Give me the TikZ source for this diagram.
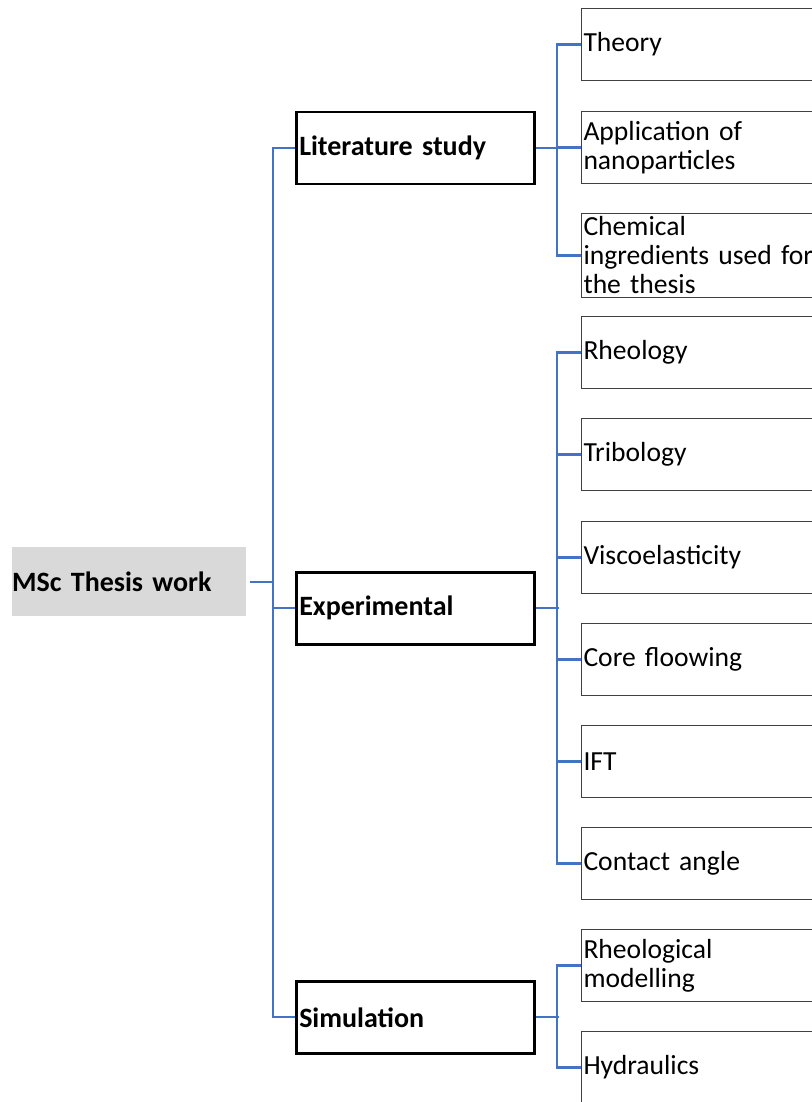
\documentclass[tikz,border=0pt]{standalone}
\usepackage{fontspec}
\setmainfont{Carlito}
\usepackage{tikz}

\definecolor{linkblue}{HTML}{4472C4}
\definecolor{rootgray}{HTML}{D9D9D9}
\definecolor{leafedge}{HTML}{404040}

\begin{document}
\begin{tikzpicture}[x=1pt, y=-1pt,
    rootbox/.style={fill=rootgray, anchor=north west, minimum width=234pt, minimum height=69pt,
        text width=234pt, inner xsep=0pt, align=left, font=\bfseries\fontsize{28}{30}\selectfont},
    midbox/.style={draw=black, line width=2.5pt, anchor=north west, minimum width=238pt, minimum height=72pt,
        text width=232pt, inner xsep=1.5pt, align=left, font=\bfseries\fontsize{28}{30}\selectfont},
    leafbox/.style={draw=leafedge, line width=1pt, anchor=north west, minimum width=262pt, minimum height=72pt,
        text width=258pt, inner xsep=0pt, align=left, font=\fontsize{27.6}{29}\selectfont},
    link/.style={draw=linkblue, line width=2.2pt}]
\useasboundingbox (0,0) rectangle (811,1102);

% root and main branches
\node[rootbox] (thesis) at (12,547) {MSc Thesis work};
\node[midbox] (lit) at (295,111) {Literature study};
\node[midbox] (exp) at (295,571) {Experimental};
\node[midbox] (sim) at (295,980) {Simulation};

% leaves
\node[leafbox] (theory) at (581,8) {Theory};
\node[leafbox] (app) at (581,111) {Application of\\nanoparticles};
\node[leafbox] (chem) at (581,213) {Chemical\\ingredients used for\\the thesis};
\node[leafbox] (rheo) at (581,316) {Rheology};
\node[leafbox] (tribo) at (581,418) {Tribology};
\node[leafbox] (visco) at (581,521) {Viscoelasticity};
\node[leafbox] (core) at (581,623) {Core floowing};
\node[leafbox] (ift) at (581,725) {IFT};
\node[leafbox] (contact) at (581,827) {Contact angle};
\node[leafbox] (model) at (581,929) {Rheological\\modelling};
\node[leafbox] (hydro) at (581,1031) {Hydraulics};

% connectors root -> branches
\draw[link] ([xshift=4pt]thesis.east) -- ++(23,0);
\draw[link] (lit.west) -- ++(-22,0) |- (sim.west);
\draw[link] (exp.west) -- ++(-22,0);

% connectors branches -> leaves
\draw[link] (lit.east) -- ++(23,0);
\draw[link] (theory.west) -- ++(-24,0) |- (chem.west);
\draw[link] (app.west) -- ++(-24,0);

\draw[link] (exp.east) -- ++(23,0);
\draw[link] (rheo.west) -- ++(-24,0) |- (contact.west);
\foreach \n in {tribo,visco,core,ift}{
    \draw[link] (\n.west) -- ++(-24,0);
}

\draw[link] (sim.east) -- ++(23,0);
\draw[link] (model.west) -- ++(-24,0) |- (hydro.west);
\end{tikzpicture}
\end{document}
